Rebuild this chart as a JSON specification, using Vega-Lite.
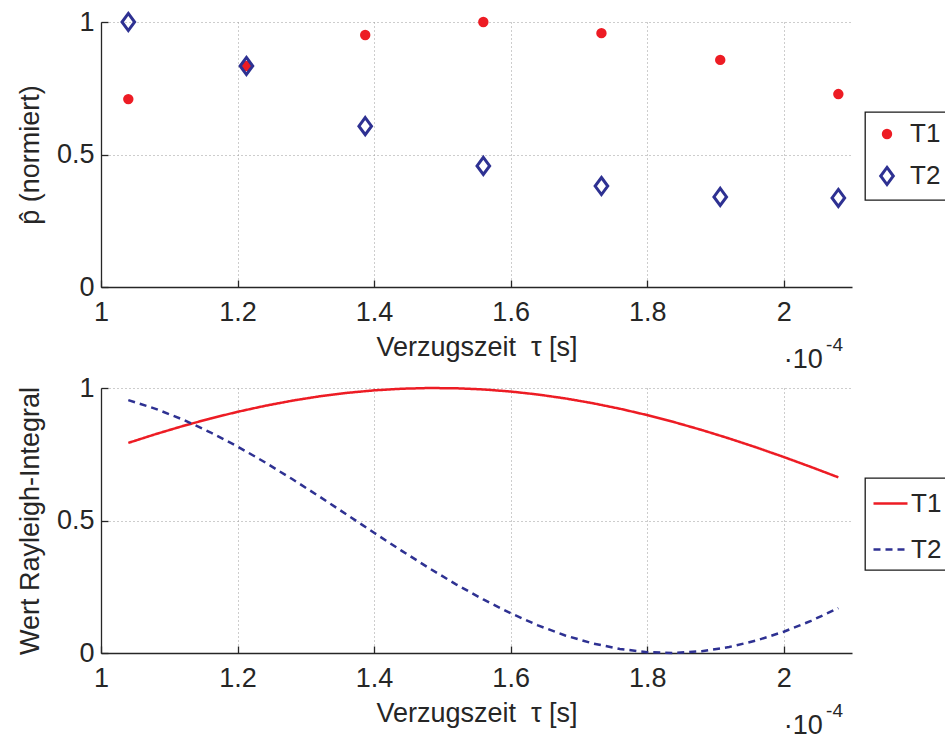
{
  "$schema": "https://vega.github.io/schema/vega-lite/v6.json",
  "background": "white",
  "padding": {"left": 16, "top": 7, "right": 0, "bottom": 0},
  "spacing": 101,
  "bounds": "flush",
  "resolve": {
    "scale": {"color": "independent", "stroke": "independent", "fill": "independent", "shape": "independent", "strokeDash": "independent"},
    "legend": {"color": "independent", "stroke": "independent", "fill": "independent", "shape": "independent", "strokeDash": "independent"}
  },
  "datasets": {
    "punkte": [
      {"tau": 1.04, "p": 0.709, "serie": "T1"},
      {"tau": 1.213, "p": 0.834, "serie": "T1"},
      {"tau": 1.387, "p": 0.951, "serie": "T1"},
      {"tau": 1.56, "p": 1.0, "serie": "T1"},
      {"tau": 1.733, "p": 0.958, "serie": "T1"},
      {"tau": 1.907, "p": 0.857, "serie": "T1"},
      {"tau": 2.08, "p": 0.728, "serie": "T1"},
      {"tau": 1.04, "p": 1.0, "serie": "T2"},
      {"tau": 1.213, "p": 0.834, "serie": "T2"},
      {"tau": 1.387, "p": 0.607, "serie": "T2"},
      {"tau": 1.56, "p": 0.457, "serie": "T2"},
      {"tau": 1.733, "p": 0.381, "serie": "T2"},
      {"tau": 1.907, "p": 0.34, "serie": "T2"},
      {"tau": 2.08, "p": 0.336, "serie": "T2"}
    ],
    "kurven": [
      {"tau": 1.04, "wert": 0.7928, "serie": "T1"},
      {"tau": 1.08, "wert": 0.8259, "serie": "T1"},
      {"tau": 1.12, "wert": 0.8566, "serie": "T1"},
      {"tau": 1.16, "wert": 0.8847, "serie": "T1"},
      {"tau": 1.2, "wert": 0.9101, "serie": "T1"},
      {"tau": 1.24, "wert": 0.9326, "serie": "T1"},
      {"tau": 1.28, "wert": 0.9522, "serie": "T1"},
      {"tau": 1.32, "wert": 0.9685, "serie": "T1"},
      {"tau": 1.36, "wert": 0.9815, "serie": "T1"},
      {"tau": 1.4, "wert": 0.9911, "serie": "T1"},
      {"tau": 1.44, "wert": 0.9972, "serie": "T1"},
      {"tau": 1.48, "wert": 0.9999, "serie": "T1"},
      {"tau": 1.52, "wert": 0.999, "serie": "T1"},
      {"tau": 1.56, "wert": 0.9946, "serie": "T1"},
      {"tau": 1.6, "wert": 0.9867, "serie": "T1"},
      {"tau": 1.64, "wert": 0.9754, "serie": "T1"},
      {"tau": 1.68, "wert": 0.9607, "serie": "T1"},
      {"tau": 1.72, "wert": 0.9428, "serie": "T1"},
      {"tau": 1.76, "wert": 0.9218, "serie": "T1"},
      {"tau": 1.8, "wert": 0.8978, "serie": "T1"},
      {"tau": 1.84, "wert": 0.8709, "serie": "T1"},
      {"tau": 1.88, "wert": 0.8415, "serie": "T1"},
      {"tau": 1.92, "wert": 0.8096, "serie": "T1"},
      {"tau": 1.96, "wert": 0.7756, "serie": "T1"},
      {"tau": 2.0, "wert": 0.7396, "serie": "T1"},
      {"tau": 2.04, "wert": 0.702, "serie": "T1"},
      {"tau": 2.08, "wert": 0.6629, "serie": "T1"},
      {"tau": 1.04, "wert": 0.9543, "serie": "T2"},
      {"tau": 1.08, "wert": 0.9214, "serie": "T2"},
      {"tau": 1.12, "wert": 0.8808, "serie": "T2"},
      {"tau": 1.16, "wert": 0.833, "serie": "T2"},
      {"tau": 1.2, "wert": 0.7792, "serie": "T2"},
      {"tau": 1.24, "wert": 0.7198, "serie": "T2"},
      {"tau": 1.28, "wert": 0.6564, "serie": "T2"},
      {"tau": 1.32, "wert": 0.5903, "serie": "T2"},
      {"tau": 1.36, "wert": 0.5223, "serie": "T2"},
      {"tau": 1.4, "wert": 0.4537, "serie": "T2"},
      {"tau": 1.44, "wert": 0.3864, "serie": "T2"},
      {"tau": 1.48, "wert": 0.3213, "serie": "T2"},
      {"tau": 1.52, "wert": 0.2592, "serie": "T2"},
      {"tau": 1.56, "wert": 0.202, "serie": "T2"},
      {"tau": 1.6, "wert": 0.1501, "serie": "T2"},
      {"tau": 1.64, "wert": 0.1042, "serie": "T2"},
      {"tau": 1.68, "wert": 0.0662, "serie": "T2"},
      {"tau": 1.72, "wert": 0.0363, "serie": "T2"},
      {"tau": 1.76, "wert": 0.0151, "serie": "T2"},
      {"tau": 1.8, "wert": 0.003, "serie": "T2"},
      {"tau": 1.84, "wert": 0.0002, "serie": "T2"},
      {"tau": 1.88, "wert": 0.0067, "serie": "T2"},
      {"tau": 1.92, "wert": 0.0225, "serie": "T2"},
      {"tau": 1.96, "wert": 0.0472, "serie": "T2"},
      {"tau": 2.0, "wert": 0.0803, "serie": "T2"},
      {"tau": 2.04, "wert": 0.1213, "serie": "T2"},
      {"tau": 2.08, "wert": 0.1694, "serie": "T2"}
    ]
  },
  "config": {
    "font": "Liberation Sans",
    "view": {"stroke": null},
    "axis": {
      "domainColor": "#262626",
      "domainWidth": 1.3,
      "tickColor": "#262626",
      "tickSize": -7,
      "tickWidth": 1.3,
      "labelFont": "Liberation Sans",
      "labelFontSize": 27,
      "labelColor": "#262626",
      "labelFlush": false,
      "titleFont": "Liberation Sans",
      "titleFontSize": 27,
      "titleFontWeight": "normal",
      "titleColor": "#262626",
      "gridColor": "#9a9a9a",
      "gridDash": [1, 3],
      "gridWidth": 1
    },
    "axisX": {"labelPadding": 19, "titlePadding": 9},
    "axisY": {"labelPadding": 14, "titlePadding": 12},
    "legend": {
      "orient": "none",
      "legendX": 764,
      "legendY": 90,
      "padding": 9,
      "strokeColor": "#1a1a1a",
      "strokeWidth": 1.3,
      "fillColor": "white",
      "labelFont": "Liberation Sans",
      "labelFontSize": 26,
      "labelColor": "#262626",
      "rowPadding": 14,
      "labelOffset": 10
    }
  },
  "vconcat": [
    {
      "width": 751,
      "height": 265,
      "layer": [
        {
          "data": {"name": "punkte"},
          "mark": {"type": "point", "strokeWidth": 3, "size": 55, "opacity": 1},
          "encoding": {
            "x": {
              "field": "tau",
              "type": "quantitative",
              "scale": {"domain": [1, 2.1], "nice": false, "zero": false},
              "axis": {"values": [1, 1.2, 1.4, 1.6, 1.8, 2], "format": ".1~f", "title": "Verzugszeit\u00a0\u00a0τ [s]"}
            },
            "y": {
              "field": "p",
              "type": "quantitative",
              "scale": {"domain": [0, 1], "nice": false},
              "axis": {"values": [0, 0.5, 1], "format": ".1~f", "title": "p̂ (normiert)"}
            },
            "fill": {
              "field": "serie",
              "type": "nominal",
              "scale": {"domain": ["T1", "T2"], "range": ["#ed1c24", "transparent"]},
              "legend": {"title": null, "symbolSize": 55, "symbolStrokeWidth": 3, "symbolOffset": 0}
            },
            "stroke": {
              "field": "serie",
              "type": "nominal",
              "scale": {"domain": ["T1", "T2"], "range": ["#ed1c24", "#2e3192"]},
              "legend": {"title": null, "symbolSize": 55, "symbolStrokeWidth": 3, "symbolOffset": 0}
            },
            "shape": {
              "field": "serie",
              "type": "nominal",
              "scale": {"domain": ["T1", "T2"], "range": ["circle", "M0,-2.3L1.7,0L0,2.3L-1.7,0Z"]},
              "legend": {"title": null, "symbolSize": 55, "symbolStrokeWidth": 3, "symbolOffset": 0}
            }
          }
        },
        {
          "data": {"values": [{"basis": "·10", "exponent": "-4"}]},
          "layer": [
            {
              "mark": {"type": "text", "align": "left", "baseline": "middle", "fontSize": 27, "color": "#262626"},
              "encoding": {
                "x": {"datum": 2.0, "type": "quantitative"},
                "y": {"datum": -0.276, "type": "quantitative"},
                "text": {"field": "basis"}
              }
            },
            {
              "mark": {"type": "text", "align": "left", "baseline": "middle", "fontSize": 19, "color": "#262626"},
              "encoding": {
                "x": {"datum": 2.062, "type": "quantitative"},
                "y": {"datum": -0.219, "type": "quantitative"},
                "text": {"field": "exponent"}
              }
            }
          ]
        }
      ]
    },
    {
      "width": 751,
      "height": 265,
      "layer": [
        {
          "data": {"name": "kurven"},
          "mark": {"type": "line", "strokeWidth": 2.5},
          "encoding": {
            "x": {
              "field": "tau",
              "type": "quantitative",
              "scale": {"domain": [1, 2.1], "nice": false, "zero": false},
              "axis": {"values": [1, 1.2, 1.4, 1.6, 1.8, 2], "format": ".1~f", "title": "Verzugszeit\u00a0\u00a0τ [s]"}
            },
            "y": {
              "field": "wert",
              "type": "quantitative",
              "scale": {"domain": [0, 1], "nice": false},
              "axis": {"values": [0, 0.5, 1], "format": ".1~f", "title": "Wert Rayleigh-Integral"}
            },
            "color": {
              "field": "serie",
              "type": "nominal",
              "scale": {"domain": ["T1", "T2"], "range": ["#ed1c24", "#2e3192"]},
              "legend": {"title": null, "symbolSize": 1156, "symbolStrokeWidth": 2.5, "labelOffset": 2, "padding": 7}
            },
            "strokeDash": {
              "field": "serie",
              "type": "nominal",
              "scale": {"domain": ["T1", "T2"], "range": [[1, 0], [7, 5]]},
              "legend": {"title": null, "symbolSize": 1156, "symbolStrokeWidth": 2.5, "labelOffset": 2, "padding": 7}
            }
          }
        },
        {
          "data": {"values": [{"basis": "·10", "exponent": "-4"}]},
          "layer": [
            {
              "mark": {"type": "text", "align": "left", "baseline": "middle", "fontSize": 27, "color": "#262626"},
              "encoding": {
                "x": {"datum": 2.0, "type": "quantitative"},
                "y": {"datum": -0.274, "type": "quantitative"},
                "text": {"field": "basis"}
              }
            },
            {
              "mark": {"type": "text", "align": "left", "baseline": "middle", "fontSize": 19, "color": "#262626"},
              "encoding": {
                "x": {"datum": 2.062, "type": "quantitative"},
                "y": {"datum": -0.218, "type": "quantitative"},
                "text": {"field": "exponent"}
              }
            }
          ]
        }
      ]
    }
  ]
}
